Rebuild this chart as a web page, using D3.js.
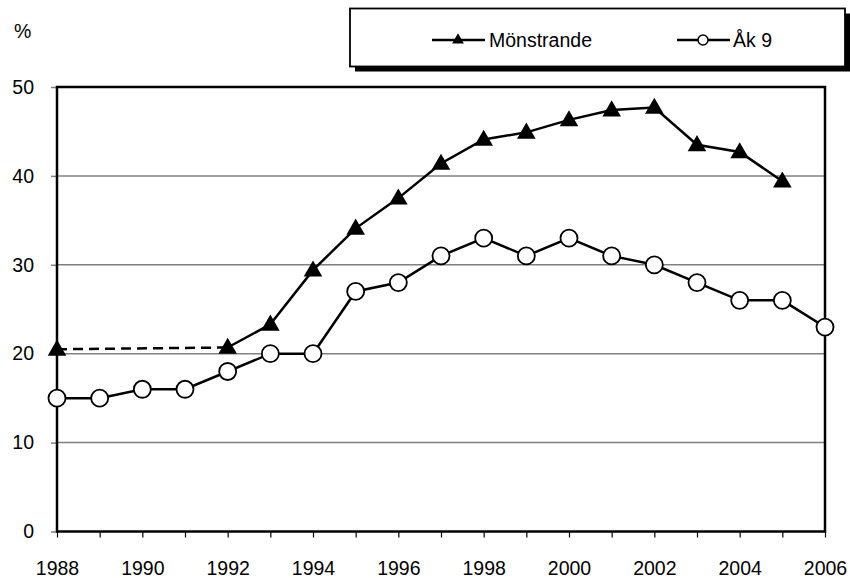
<!DOCTYPE html>
<html><head><meta charset="utf-8">
<script src="https://cdn.jsdelivr.net/npm/d3@7"></script>
<style>body{margin:0;background:#fff}svg{display:block}text{font-family:"Liberation Sans",Arial,sans-serif;fill:#000}</style>
</head><body>
<script>
const years = d3.range(1988, 2007);
const xTickLabels = [1988,1990,1992,1994,1996,1998,2000,2002,2004,2006];
const yTicks = [0,10,20,30,40,50];
const monsYears = [1988,1992,1993,1994,1995,1996,1997,1998,1999,2000,2001,2002,2003,2004,2005];
const monsValues = [20.5,20.7,23.3,29.4,34.1,37.5,41.4,44.1,44.9,46.3,47.4,47.7,43.5,42.7,39.4];
const ak9Years = years;
const ak9Values = [15,15,16,16,18,20,20,27,28,31,33,31,33,31,30,28,26,26,23];
const seriesNames = ["Mönstrande","Åk 9"];

const W=850,H=578;
const svg=d3.select("body").append("svg").attr("width",W).attr("height",H);
const x=d3.scaleLinear().domain([1988,2006]).range([57,825]);
const y=d3.scaleLinear().domain([0,50]).range([531.5,87]);

// gridlines
svg.append("g").selectAll("line").data(yTicks.filter(d=>d>0&&d<50)).join("line")
 .attr("x1",x(1988)).attr("x2",x(2006)).attr("y1",d=>y(d)).attr("y2",d=>y(d))
 .attr("stroke","#808080").attr("stroke-width",1.5);

// y axis
const ya=svg.append("g").attr("transform",`translate(${x(1988)},0)`)
 .call(d3.axisLeft(y).tickValues(yTicks).tickSize(6).tickPadding(17).tickFormat(d3.format("d")));
ya.select(".domain").remove();
ya.selectAll(".tick line").attr("stroke","#808080").attr("stroke-width",1.5);
ya.selectAll("text").attr("font-size",19.5);

// x axis
const xa=svg.append("g").attr("transform",`translate(0,${y(0)})`)
 .call(d3.axisBottom(x).tickValues(years).tickSize(6).tickPadding(24).tickFormat(d=>xTickLabels.includes(d)?d:""));
xa.select(".domain").remove();
xa.selectAll(".tick line").attr("stroke","#000").attr("stroke-width",1.2);
xa.selectAll("text").attr("font-size",19.5);

// frame
svg.append("rect").attr("x",x(1988)).attr("y",y(50)).attr("width",x(2006)-x(1988)).attr("height",y(0)-y(50))
 .attr("fill","none").attr("stroke","#000").attr("stroke-width",2.5);

svg.append("text").attr("x",14).attr("y",38).attr("font-size",19.5).text("%");

// Mönstrande
const mons=monsYears.map((yr,i)=>({yr,v:monsValues[i]}));
const line=d3.line().x(d=>x(d.yr)).y(d=>y(d.v));
svg.append("path").datum(mons.slice(0,2)).attr("d",line).attr("fill","none")
 .attr("stroke","#000").attr("stroke-width",2.5).attr("stroke-dasharray","10,6");
svg.append("path").datum(mons.slice(1)).attr("d",line).attr("fill","none")
 .attr("stroke","#000").attr("stroke-width",2.5);
const tri=d3.symbol().type(d3.symbolTriangle).size(150);
svg.append("g").selectAll("path").data(mons).join("path")
 .attr("d",tri).attr("transform",d=>`translate(${x(d.yr)},${y(d.v)+1})`).attr("fill","#000");

// Åk 9
const ak=ak9Years.map((yr,i)=>({yr,v:ak9Values[i]}));
svg.append("path").datum(ak).attr("d",line).attr("fill","none").attr("stroke","#000").attr("stroke-width",2.5);
svg.append("g").selectAll("circle").data(ak).join("circle")
 .attr("cx",d=>x(d.yr)).attr("cy",d=>y(d.v)).attr("r",8.5)
 .attr("fill","#fff").attr("stroke","#000").attr("stroke-width",1.8);

// legend
const lg=svg.append("g");
lg.append("rect").attr("x",355).attr("y",13.5).attr("width",495).attr("height",58).attr("fill","#000");
lg.append("rect").attr("x",350).attr("y",8.5).attr("width",495).attr("height",58).attr("fill","#fff").attr("stroke","#000").attr("stroke-width",1.8);
lg.append("line").attr("x1",432).attr("x2",485).attr("y1",40).attr("y2",40).attr("stroke","#000").attr("stroke-width",2.5);
lg.append("path").attr("d",d3.symbol().type(d3.symbolTriangle).size(60)).attr("transform","translate(458,40)").attr("fill","#000");
lg.append("text").attr("x",489).attr("y",47).attr("font-size",19.5).text(seriesNames[0]);
lg.append("line").attr("x1",677).attr("x2",730).attr("y1",40).attr("y2",40).attr("stroke","#000").attr("stroke-width",2.5);
lg.append("circle").attr("cx",703).attr("cy",40).attr("r",5).attr("fill","#fff").attr("stroke","#000").attr("stroke-width",1.5);
lg.append("text").attr("x",733).attr("y",47).attr("font-size",19.5).text(seriesNames[1]);
</script>
</body></html>
